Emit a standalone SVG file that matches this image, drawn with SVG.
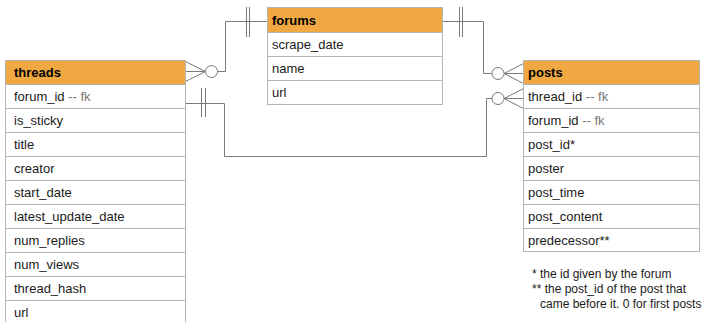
<svg xmlns="http://www.w3.org/2000/svg" width="710" height="322" viewBox="0 0 710 322">
<style>
.hdr{fill:#f0a843;stroke:#b5b5b5;stroke-width:1}
.row{fill:#ffffff;stroke:#b5b5b5;stroke-width:1}
.t{font-family:"Liberation Sans",Arial,sans-serif;font-size:13px;fill:#1a1a1a}
.h{font-weight:bold;fill:#000}
.fk{fill:#777777}
.note{font-family:"Liberation Sans",Arial,sans-serif;font-size:12px;fill:#1a1a1a}
.c{fill:none;stroke:#7a7a7a;stroke-width:1}
</style>
<rect width="710" height="322" fill="#ffffff"/>
<g id="connectors">
  <!-- forums -> threads -->
  <path class="c" d="M267.5,21.5 H225.5 V71.5 H217.5"/>
  <path class="c" d="M246.5,7 V37 M249.5,7 V37"/>
  <circle class="c" cx="211.5" cy="71.5" r="6"/>
  <path class="c" d="M205.5,71.5 H185.5 M205.5,71.5 L185.5,61.5 M205.5,71.5 L185.5,81.5"/>
  <!-- forums -> posts -->
  <path class="c" d="M442.5,21.5 H483.5 V73.5 H492"/>
  <path class="c" d="M459.5,7 V37 M462.5,7 V37"/>
  <circle class="c" cx="498" cy="73.5" r="6"/>
  <path class="c" d="M504,73.5 H523.5 M504,73.5 L523.5,63.5 M504,73.5 L523.5,83.5"/>
  <!-- threads -> posts -->
  <path class="c" d="M185.5,103.5 H224.5 V156.5 H486.5 V98.5 H492"/>
  <path class="c" d="M201.5,88 V117 M205.5,88 V117"/>
  <circle class="c" cx="498" cy="98.5" r="6"/>
  <path class="c" d="M504,98.5 H523.5 M504,98.5 L523.5,88.5 M504,98.5 L523.5,108.5"/>
</g>
<g id="forums">
  <rect class="hdr" x="267.5" y="7.5" width="175" height="25"/>
  <rect class="row" x="267.5" y="32.5" width="175" height="24"/>
  <rect class="row" x="267.5" y="56.5" width="175" height="24"/>
  <rect class="row" x="267.5" y="80.5" width="175" height="24"/>
  <text class="t h" x="272" y="25">forums</text>
  <text class="t" x="272" y="49">scrape_date</text>
  <text class="t" x="272" y="73">name</text>
  <text class="t" x="272" y="97">url</text>
</g>
<g id="threads">
  <rect class="hdr" x="5.5" y="60.5" width="180" height="24"/>
  <rect class="row" x="5.5" y="84.5" width="180" height="24"/>
  <rect class="row" x="5.5" y="108.5" width="180" height="24"/>
  <rect class="row" x="5.5" y="132.5" width="180" height="24"/>
  <rect class="row" x="5.5" y="156.5" width="180" height="24"/>
  <rect class="row" x="5.5" y="180.5" width="180" height="24"/>
  <rect class="row" x="5.5" y="204.5" width="180" height="24"/>
  <rect class="row" x="5.5" y="228.5" width="180" height="24"/>
  <rect class="row" x="5.5" y="252.5" width="180" height="24"/>
  <rect class="row" x="5.5" y="276.5" width="180" height="24"/>
  <rect class="row" x="5.5" y="300.5" width="180" height="24"/>
  <text class="t h" x="14" y="77">threads</text>
  <text class="t" x="14" y="101">forum_id <tspan class="fk">-- fk</tspan></text>
  <text class="t" x="14" y="125">is_sticky</text>
  <text class="t" x="14" y="149">title</text>
  <text class="t" x="14" y="173">creator</text>
  <text class="t" x="14" y="197">start_date</text>
  <text class="t" x="14" y="221">latest_update_date</text>
  <text class="t" x="14" y="245">num_replies</text>
  <text class="t" x="14" y="269">num_views</text>
  <text class="t" x="14" y="293">thread_hash</text>
  <text class="t" x="14" y="317">url</text>
</g>
<g id="posts">
  <rect class="hdr" x="523.5" y="60.5" width="176" height="24"/>
  <rect class="row" x="523.5" y="84.5" width="176" height="24"/>
  <rect class="row" x="523.5" y="108.5" width="176" height="24"/>
  <rect class="row" x="523.5" y="132.5" width="176" height="24"/>
  <rect class="row" x="523.5" y="156.5" width="176" height="24"/>
  <rect class="row" x="523.5" y="180.5" width="176" height="24"/>
  <rect class="row" x="523.5" y="204.5" width="176" height="24"/>
  <rect class="row" x="523.5" y="228.5" width="176" height="23"/>
  <text class="t h" x="528" y="77">posts</text>
  <text class="t" x="528" y="101">thread_id <tspan class="fk">-- fk</tspan></text>
  <text class="t" x="528" y="125">forum_id <tspan class="fk">-- fk</tspan></text>
  <text class="t" x="528" y="149">post_id*</text>
  <text class="t" x="528" y="173">poster</text>
  <text class="t" x="528" y="197">post_time</text>
  <text class="t" x="528" y="221">post_content</text>
  <text class="t" x="528" y="245">predecessor**</text>
</g>
<g id="notes">
  <text class="note" x="532" y="278">* the id given by the forum</text>
  <text class="note" x="532" y="293">** the post_id of the post that</text>
  <text class="note" x="540" y="308">came before it. 0 for first posts</text>
</g>
</svg>
